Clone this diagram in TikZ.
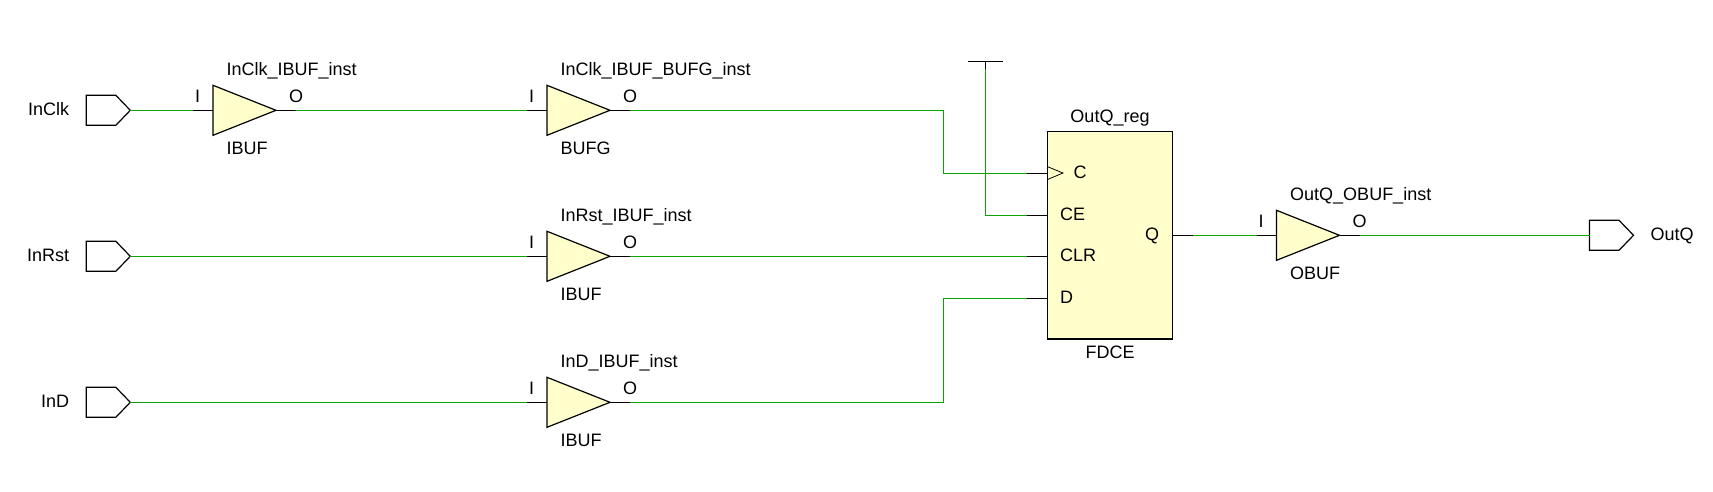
\documentclass[tikz,border=0pt]{standalone}
\usepackage{fontspec}
\setmainfont{Liberation Sans}
\usetikzlibrary{calc,shapes.geometric,shapes.symbols}
\definecolor{cellfill}{RGB}{255,255,204}
\definecolor{netgreen}{RGB}{10,165,0}
\tikzset{
    pinline/.style={black,line width=1.4pt},
    netline/.style={netgreen,line width=1.4pt},
    txt/.style={inner sep=0pt,anchor=base west},
    txtmid/.style={inner sep=0pt,anchor=base},
    bufgate/.style={draw,fill=cellfill,line width=1.2pt,shape=isosceles triangle,isosceles triangle stretches,
        minimum width=50pt,minimum height=63pt,inner sep=0pt,outer sep=0pt,anchor=lower side},
    portbox/.style={draw,line width=1.2pt,shape=signal,signal to=east,signal from=nowhere,signal pointer angle=92,
        minimum width=44pt,minimum height=30pt,inner sep=0pt,outer sep=0pt,anchor=west},
}
% buffer cell: name, x, y, instance, type
\newcommand{\bufcell}[5]{
    \node[bufgate] (#1) at (#2,#3) {};
    \coordinate (#1-i) at ($(#1.lower side)+(-20,0)$);
    \coordinate (#1-o) at ($(#1.apex)+(20,0)$);
    \draw[pinline] (#1-i) -- (#1.lower side);
    \draw[pinline] (#1.apex) -- (#1-o);
    \node[txt] (#1-inst) at ($(#1.lower side)+(13.5,-35)$) {#4};
    \node[txt] (#1-type) at ($(#1.lower side)+(13.5,44)$) {#5};
    \node[txtmid] (#1-pi) at ($(#1.lower side)+(-15.5,-8)$) {I};
    \node[txtmid] (#1-po) at ($(#1.apex)+(20,-8)$) {O};
}
\begin{document}
\begin{tikzpicture}[x=1pt,y=-1pt,font=\fontsize{18}{20}\selectfont]
    \useasboundingbox (0,0) rectangle (1713,491);
    % ports
    \node[portbox] (inclk) at (86.3,110.3) {};
    \node[portbox] (inrst) at (86.3,256.3) {};
    \node[portbox] (ind) at (86.3,402.3) {};
    \node[portbox] (outq) at (1589.5,235.3) {};
    \node[txt] (inclk-l) at (28,115.3) {InClk};
    \node[txt] (inrst-l) at (27,261.3) {InRst};
    \node[txt] (ind-l) at (41,407.3) {InD};
    \node[txt] (outq-l) at (1650.5,240.3) {OutQ};
    % buffers
    \bufcell{clkbuf}{213}{110.3}{InClk\_IBUF\_inst}{IBUF}
    \bufcell{clkbufg}{547}{110.3}{InClk\_IBUF\_BUFG\_inst}{BUFG}
    \bufcell{rstbuf}{547}{256.3}{InRst\_IBUF\_inst}{IBUF}
    \bufcell{dbuf}{547}{402.3}{InD\_IBUF\_inst}{IBUF}
    \bufcell{qbuf}{1276.5}{235.3}{OutQ\_OBUF\_inst}{OBUF}
    % register
    \node[draw,fill=cellfill,line width=1.2pt,minimum width=125pt,minimum height=207.7pt,inner sep=0pt,outer sep=0pt] (reg) at (1109.8,235.2) {};
    \node[txtmid] (reg-inst) at (1110,122) {OutQ\_reg};
    \node[txtmid] (reg-type) at (1110,358) {FDCE};
    \coordinate (reg-c) at (1047.3,173.3);
    \coordinate (reg-ce) at (1047.3,215.3);
    \coordinate (reg-clr) at (1047.3,256.3);
    \coordinate (reg-d) at (1047.3,298.3);
    \coordinate (reg-q) at (1172.3,235.3);
    \coordinate (reg-cs) at (1026.7,173.3);
    \coordinate (reg-ces) at (1026.7,215.3);
    \coordinate (reg-clrs) at (1026.7,256.3);
    \coordinate (reg-ds) at (1026.7,298.3);
    \coordinate (reg-qs) at (1193,235.3);
    \draw[pinline] (reg-cs) -- (reg-c);
    \draw[pinline] (reg-ces) -- (reg-ce);
    \draw[pinline] (reg-clrs) -- (reg-clr);
    \draw[pinline] (reg-ds) -- (reg-d);
    \draw[pinline] (reg-q) -- (reg-qs);
    \draw[line width=0.8pt] (1047.3,166.6) -- (1063,173) -- (1047.3,179.6);
    \node[txtmid] (reg-pc) at (1080,178) {C};
    \node[txt] (reg-pce) at (1060,220) {CE};
    \node[txt] (reg-pclr) at (1060,261) {CLR};
    \node[txt] (reg-pd) at (1060,303) {D};
    \node[txtmid] (reg-pq) at (1152,240) {Q};
    % tie-high
    \coordinate (vcc) at (985.3,61.3);
    \coordinate (vcc-s) at (985.3,69);
    \draw[pinline] (968,61.3) -- (1003,61.3);
    \draw[pinline] (vcc) -- (vcc-s);
    % nets
    \draw[netline] (inclk.east) -- (clkbuf-i);
    \draw[netline] (clkbuf-o) -- (clkbufg-i);
    \draw[netline] (inrst.east) -- (rstbuf-i);
    \draw[netline] (ind.east) -- (dbuf-i);
    \draw[netline] (clkbufg-o) -| (943.3,173.3) -- (reg-cs);
    \draw[netline] (vcc-s) |- (reg-ces);
    \draw[netline] (rstbuf-o) -- (reg-clrs);
    \draw[netline] (dbuf-o) -| (943.3,298.3) -- (reg-ds);
    \draw[netline] (reg-qs) -- (qbuf-i);
    \draw[netline] (qbuf-o) -- (outq.west);
\end{tikzpicture}
\end{document}
